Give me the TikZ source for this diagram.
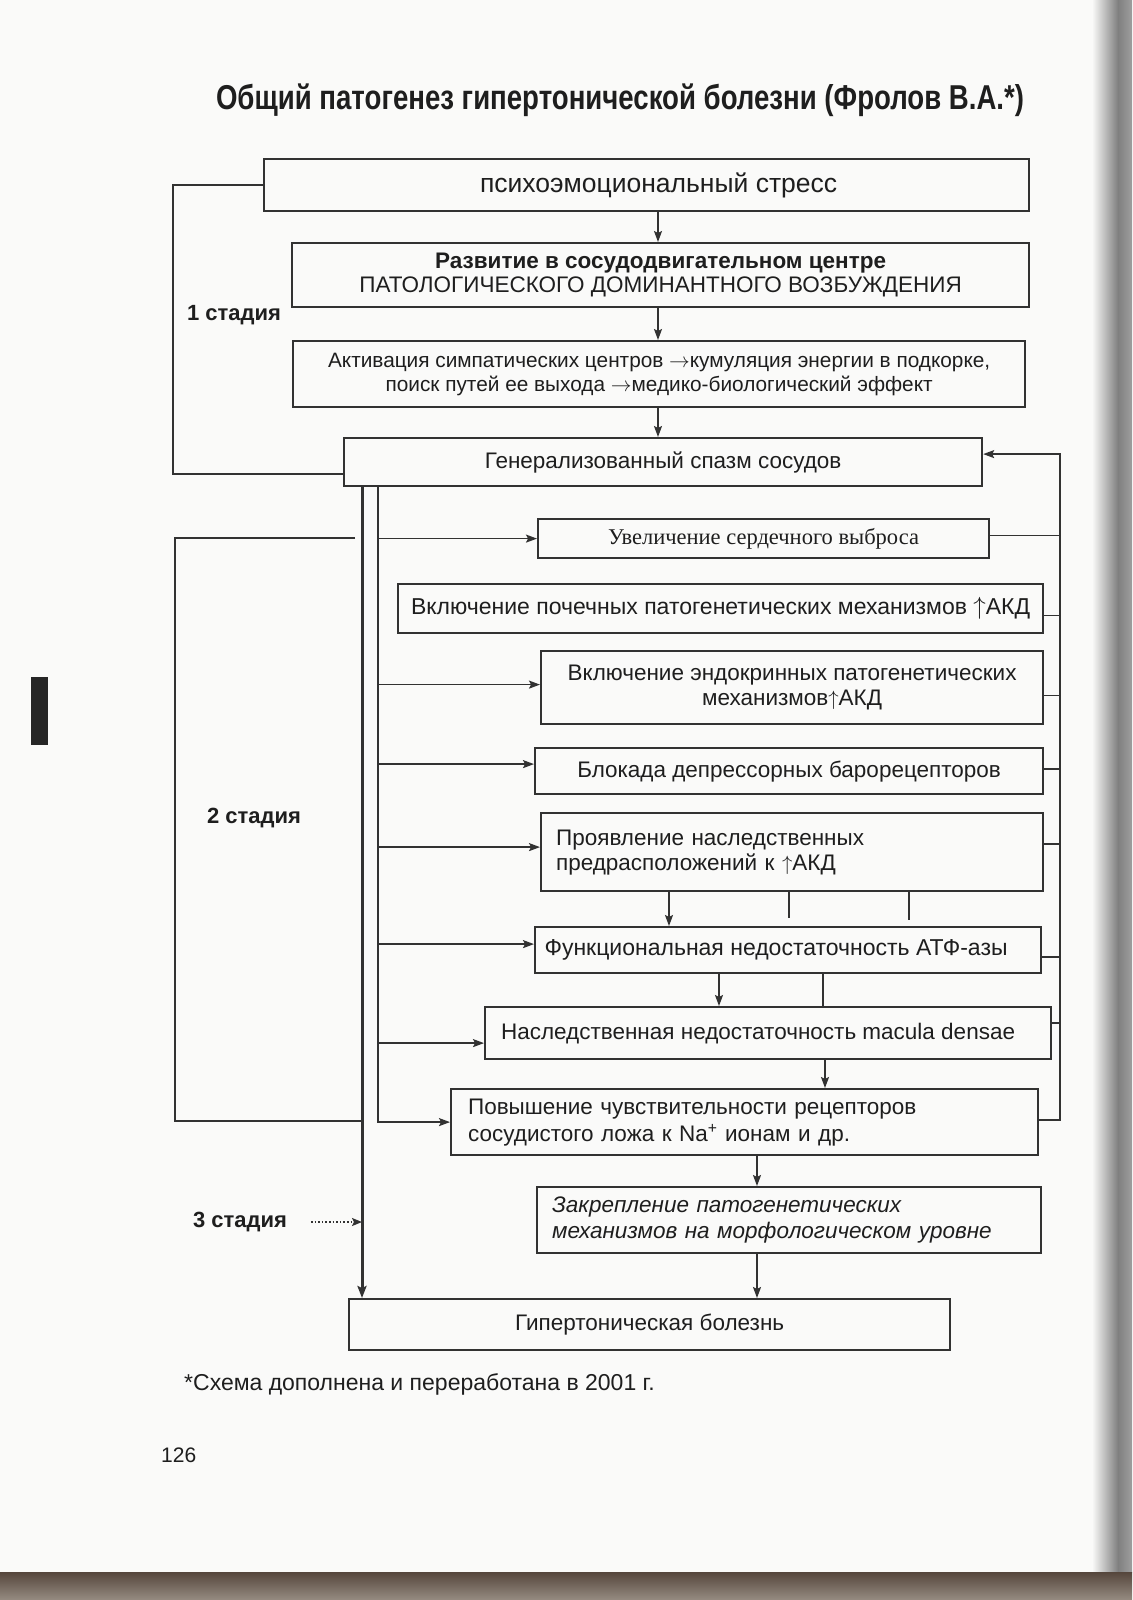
\documentclass[tikz,border=0pt]{standalone}
\usepackage{fontspec}
\setmainfont{Liberation Sans}
\newfontfamily\serifface{Liberation Serif}
\newfontfamily\titleface[FakeStretch=0.8]{Liberation Sans}
\usetikzlibrary{arrows.meta,calc}
\newcommand\myfs[2]{\fontsize{#1}{#2}\selectfont}
\definecolor{linec}{RGB}{50,50,50}
\definecolor{textc}{RGB}{30,30,30}
\definecolor{paper}{RGB}{250,250,249}
\begin{document}
\begin{tikzpicture}[x=1pt,y=-1pt,
  box/.style={draw=linec,line width=2.2pt,anchor=north west,inner sep=0pt,text=textc,font=\myfs{22.5}{25},align=center},
  lbox/.style={box,align=left},
  ln/.style={draw=linec,line width=1.5pt},
  arr/.style={ln,-{Stealth[length=11pt,width=8pt,inset=2pt]}},
  trunk/.style={draw=linec,line width=3pt,-{Stealth[length=12pt,width=9pt,inset=2pt]}},
  dotarr/.style={draw=linec,line width=1.6pt,dotted,-{Stealth[length=10pt,width=8pt,inset=2pt]}},
  lab/.style={text=textc,font=\bfseries\myfs{22}{26},inner sep=0pt},
]
\useasboundingbox (0,0) rectangle (1132,1600);
% page
\fill[paper] (0,0) rectangle (1132,1600);
\shade[left color=paper,right color=black!50] (1092,0) rectangle (1118,1572);
\shade[left color=black!50,right color=black!38] (1118,0) rectangle (1132,1572);
\shade[top color={rgb,255:red,85;green,70;blue,60},bottom color={rgb,255:red,150;green,140;blue,130}] (0,1572) rectangle (1132,1600);
\fill[black!85] (31,677) rectangle (48,745);

% title
\node[text=textc,font=\titleface\bfseries\myfs{34.5}{40},inner sep=0pt] (title) at (620,100)
  {Общий патогенез гипертонической болезни (Фролов В.А.*)};

% boxes
\node[box,minimum width=765pt,minimum height=52pt,font=\myfs{26.5}{30}] (b1) at (263,158) {\hspace*{24pt}психоэмоциональный стресс};
\node[box,minimum width=737pt,minimum height=64pt,font=\myfs{22.5}{24}] (b2) at (291,242)
  {\textbf{Развитие в сосудодвигательном центре}\\ПАТОЛОГИЧЕСКОГО ДОМИНАНТНОГО ВОЗБУЖДЕНИЯ};
\node[box,minimum width=732pt,minimum height=66pt,font=\myfs{20.8}{24}] (b3) at (292,340)
  {Активация симпатических центров $\rightarrow$кумуляция энергии в подкорке,\\поиск путей ее выхода $\rightarrow$медико-биологический эффект};
\node[box,minimum width=638pt,minimum height=48pt] (b4) at (343,437) {Генерализованный спазм сосудов};
\node[box,minimum width=451pt,minimum height=39pt,font=\serifface\myfs{22.5}{25}] (b5) at (537,518) {Увеличение сердечного выброса};
\node[box,minimum width=645pt,minimum height=49pt,font=\myfs{23}{25}] (b6) at (397,583) {Включение почечных патогенетических механизмов $\uparrow$АКД};
\node[box,minimum width=502pt,minimum height=73pt] (b7) at (540,650) {Включение эндокринных патогенетических\\механизмов$\uparrow$АКД};
\node[box,minimum width=508pt,minimum height=46pt] (b8) at (534,747) {Блокада депрессорных барорецепторов};
\node[lbox,inner xsep=15pt,text width=472pt,minimum height=78pt] (b9) at (540,812) {Проявление наследственных\\предрасположений к $\uparrow$АКД};
\node[box,minimum width=506pt,minimum height=46pt,font=\myfs{23}{25}] (b10) at (534,926) {Функциональная недостаточность АТФ-азы\hspace*{24pt}};
\node[box,minimum width=566pt,minimum height=52pt] (b11) at (484,1006) {Наследственная недостаточность macula densae\hspace*{20pt}};
\node[lbox,inner xsep=17pt,text width=553pt,minimum height=66pt,font=\myfs{22.5}{27}] (b12) at (450,1088)
  {Повышение чувствительности рецепторов\\сосудистого ложа к Na\textsuperscript{+} ионам и др.};
\node[lbox,inner xsep=15pt,text width=474pt,minimum height=66pt,font=\itshape\myfs{22.5}{26}] (b13) at (536,1186)
  {Закрепление патогенетических\\механизмов на морфологическом уровне};
\node[box,minimum width=601pt,minimum height=51pt] (b14) at (348,1298) {Гипертоническая болезнь};

% stage labels
\node[lab] (s1) at (234,315) {1 стадия};
\node[lab] (s2) at (254,818) {2 стадия};
\node[lab] (s3) at (240,1222) {3 стадия};

% footnote and page number
\node[anchor=west,inner sep=0pt,text=textc,font=\myfs{23}{26}] (foot) at (184,1384) {*Схема дополнена и переработана в 2001 г.};
\node[anchor=west,inner sep=0pt,text=textc,font=\myfs{21}{24}] (pnum) at (161,1455) {126};

% helper coordinates
\coordinate (xa) at (658,0);
\coordinate (x9a) at (669,0);
\coordinate (x9b) at (789,0);
\coordinate (x9c) at (909,0);
\coordinate (x10a) at (719,0);
\coordinate (x10b) at (823,0);
\coordinate (x11) at (825,0);
\coordinate (x12) at (757,0);
\coordinate (tA) at (362,0);
\coordinate (tB) at (378,0);
\coordinate (fR) at (1060,0);
\coordinate (xL1) at (173,0);
\coordinate (b4lo) at ([yshift=-12pt]b4.west);
\coordinate (b4in) at ([yshift=8pt]b4.east);
\coordinate (b12out) at ([yshift=2pt]b12.east);
\coordinate (br2a) at (355,538);
\coordinate (br2b) at (175,538);
\coordinate (br2c) at (175,1121);
\coordinate (br2d) at (362,1121);
\coordinate (s3a) at (311,1222);
\coordinate (e9b) at (789,918);
\coordinate (e9c) at (909,920);

% main chain
\draw[arr] (xa |- b1.south) -- (xa |- b2.north);
\draw[arr] (xa |- b2.south) -- (xa |- b3.north);
\draw[arr] (xa |- b3.south) -- (xa |- b4.north);
\draw[arr] (x9a |- b9.south) -- (x9a |- b10.north);
\draw[ln] (x9b |- b9.south) -- (e9b);
\draw[ln] (x9c |- b9.south) -- (e9c);
\draw[arr] (x10a |- b10.south) -- (x10a |- b11.north);
\draw[ln] (x10b |- b10.south) -- (x10b |- b11.north);
\draw[arr] (x11 |- b11.south) -- (x11 |- b12.north);
\draw[arr] (x12 |- b12.south) -- (x12 |- b13.north);
\draw[arr] (x12 |- b13.south) -- (x12 |- b14.north);

% stage 1 bracket
\draw[ln] (b1.west) -- (xL1 |- b1.west) -- (xL1 |- b4lo) -- (b4lo);
% stage 2 bracket
\draw[ln] (br2a) -- (br2b) -- (br2c) -- (br2d);

% trunks
\draw[trunk] (tA |- b4.south) -- (tA |- b14.north);
\draw[arr] (tB |- b4.south) -- (tB |- b12.west) -- (b12.west);
\foreach \b/\s in {b5/0,b7/3,b8/7,b9/5,b10/6,b11/-10}{
  \coordinate (q) at ([yshift=\s pt]\b.west);
  \draw[arr] (tB |- q) -- (q);
}

% stage 3 pointer
\draw[dotarr] (s3a) -- (tA |- s3a);

% feedback on the right
\draw[arr] (b12out) -- (fR |- b12out) -- (fR |- b4in) -- (b4in);
\foreach \b/\s in {b5/3,b6/-7,b7/-8,b8/2,b9/8,b10/-7,b11/10}{
  \coordinate (r) at ([yshift=\s pt]\b.east);
  \draw[ln] (r) -- (fR |- r);
}
\end{tikzpicture}
\end{document}
